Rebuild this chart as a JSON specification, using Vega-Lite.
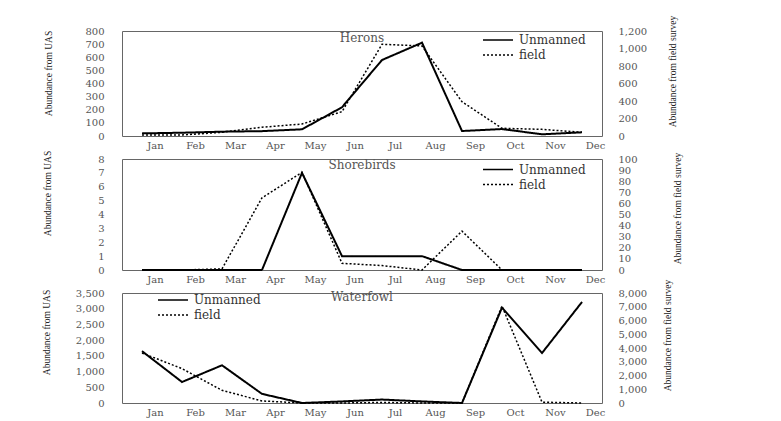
{
  "$schema": "https://vega.github.io/schema/vega-lite/v6.json",
  "background": "white",
  "padding": {"left": 40, "top": 14, "right": 5, "bottom": 5},
  "bounds": "flush",
  "spacing": 23,
  "config": {
    "view": {"stroke": "#666", "strokeWidth": 1},
    "font": "DejaVu Serif",
    "axis": {"grid": false, "ticks": false, "domain": false, "labelFont": "DejaVu Serif", "labelFontSize": 10, "labelColor": "#555", "titleFont": "Liberation Serif", "titleFontSize": 9.5, "titleColor": "#222", "titleFontWeight": "normal"},
    "legend": {"orient": "none", "title": null, "symbolType": "M-2,0H2", "symbolSize": 225, "symbolStrokeColor": "black", "symbolStrokeWidth": 1.5, "labelFont": "DejaVu Serif", "labelFontSize": 12, "labelColor": "#333", "rowPadding": -1, "padding": 0, "labelOffset": 12.5},
    "title": {"font": "DejaVu Serif", "fontSize": 12, "fontWeight": "normal", "color": "#555", "anchor": "middle", "baseline": "top", "offset": -30}
  },
  "datasets": {
    "d": [
      {"species": "Herons", "month": "Jan", "uas": 20, "field": 11},
      {"species": "Herons", "month": "Feb", "uas": 25, "field": 12},
      {"species": "Herons", "month": "Mar", "uas": 33, "field": 42},
      {"species": "Herons", "month": "Apr", "uas": 37, "field": 100},
      {"species": "Herons", "month": "May", "uas": 51, "field": 137},
      {"species": "Herons", "month": "Jun", "uas": 219, "field": 278},
      {"species": "Herons", "month": "Jul", "uas": 579, "field": 1048},
      {"species": "Herons", "month": "Aug", "uas": 711, "field": 1029},
      {"species": "Herons", "month": "Sep", "uas": 38, "field": 392},
      {"species": "Herons", "month": "Oct", "uas": 53, "field": 88},
      {"species": "Herons", "month": "Nov", "uas": 13, "field": 76},
      {"species": "Herons", "month": "Dec", "uas": 28, "field": 42},
      {"species": "Shorebirds", "month": "Jan", "uas": 0, "field": 0},
      {"species": "Shorebirds", "month": "Feb", "uas": 0, "field": 0},
      {"species": "Shorebirds", "month": "Mar", "uas": 0, "field": 1},
      {"species": "Shorebirds", "month": "Apr", "uas": 0, "field": 65},
      {"species": "Shorebirds", "month": "May", "uas": 7, "field": 88},
      {"species": "Shorebirds", "month": "Jun", "uas": 1, "field": 6},
      {"species": "Shorebirds", "month": "Jul", "uas": 1, "field": 4},
      {"species": "Shorebirds", "month": "Aug", "uas": 1, "field": 0},
      {"species": "Shorebirds", "month": "Sep", "uas": 0, "field": 35},
      {"species": "Shorebirds", "month": "Oct", "uas": 0, "field": 0},
      {"species": "Shorebirds", "month": "Nov", "uas": 0, "field": 0},
      {"species": "Shorebirds", "month": "Dec", "uas": 0, "field": 0},
      {"species": "Waterfowl", "month": "Jan", "uas": 1650, "field": 3640},
      {"species": "Waterfowl", "month": "Feb", "uas": 668, "field": 2500},
      {"species": "Waterfowl", "month": "Mar", "uas": 1200, "field": 920},
      {"species": "Waterfowl", "month": "Apr", "uas": 290, "field": 150},
      {"species": "Waterfowl", "month": "May", "uas": 0, "field": 0},
      {"species": "Waterfowl", "month": "Jun", "uas": 50, "field": 0},
      {"species": "Waterfowl", "month": "Jul", "uas": 110, "field": 40},
      {"species": "Waterfowl", "month": "Aug", "uas": 50, "field": 0},
      {"species": "Waterfowl", "month": "Sep", "uas": 0, "field": 0},
      {"species": "Waterfowl", "month": "Oct", "uas": 3035, "field": 7050},
      {"species": "Waterfowl", "month": "Nov", "uas": 1590, "field": 60},
      {"species": "Waterfowl", "month": "Dec", "uas": 3214, "field": 0}
    ]
  },
  "resolve": {"scale": {"y": "independent", "strokeDash": "independent"}, "legend": {"strokeDash": "independent"}},
  "vconcat": [
    {
      "width": 480, "height": 105,
      "data": {"name": "d"},
      "title": {"text": "Herons"},
      "transform": [{"filter": "datum.species === 'Herons'"}],
      "encoding": {"x": {"field": "month", "type": "ordinal", "sort": ["Jan","Feb","Mar","Apr","May","Jun","Jul","Aug","Sep","Oct","Nov","Dec"], "scale": {"type": "point", "padding": 0.5}, "axis": {"title": null, "labelAngle": 0, "labelOffset": 13, "labelPadding": 4}}},
      "layer": [
        {"mark": {"type": "line", "color": "black", "strokeWidth": 2},
         "encoding": {"y": {"field": "uas", "type": "quantitative", "scale": {"domain": [0, 800]}, "axis": {"orient": "left", "title": "Abundance from UAS", "values": [0,100,200,300,400,500,600,700,800], "format": ",.0f", "labelPadding": 18, "titleX": -74, "titleY": 42, "titleAngle": 270, "titleAlign": "center", "titleBaseline": "middle"}},
                      "strokeDash": {"datum": "Unmanned", "type": "nominal", "scale": {"domain": ["Unmanned", "field"], "range": [[1, 0], [2, 2]]}, "legend": {"legendX": 367.5, "legendY": 0.5}}}},
        {"mark": {"type": "line", "color": "black", "strokeWidth": 1.5},
         "encoding": {"y": {"field": "field", "type": "quantitative", "scale": {"domain": [0, 1200]}, "axis": {"orient": "right", "title": "Abundance from field survey", "values": [0,200,400,600,800,1000,1200], "format": ",.0f", "labelPadding": 16, "titleX": 70, "titleY": 40, "titleAngle": 270, "titleAlign": "center", "titleBaseline": "middle"}},
                      "strokeDash": {"datum": "field", "type": "nominal"}}}
      ],
      "resolve": {"scale": {"y": "independent"}}
    },
    {
      "width": 480, "height": 111,
      "data": {"name": "d"},
      "title": {"text": "Shorebirds", "offset": -22},
      "transform": [{"filter": "datum.species === 'Shorebirds'"}],
      "encoding": {"x": {"field": "month", "type": "ordinal", "sort": ["Jan","Feb","Mar","Apr","May","Jun","Jul","Aug","Sep","Oct","Nov","Dec"], "scale": {"type": "point", "padding": 0.5}, "axis": {"title": null, "labelAngle": 0, "labelOffset": 13, "labelPadding": 4}}},
      "layer": [
        {"mark": {"type": "line", "color": "black", "strokeWidth": 2},
         "encoding": {"y": {"field": "uas", "type": "quantitative", "scale": {"domain": [0, 8]}, "axis": {"orient": "left", "title": "Abundance from UAS", "values": [0,1,2,3,4,5,6,7,8], "labelPadding": 18, "titleX": -75, "titleY": 34, "titleAngle": 270, "titleAlign": "center", "titleBaseline": "middle"}},
                      "strokeDash": {"datum": "Unmanned", "type": "nominal", "scale": {"domain": ["Unmanned", "field"], "range": [[1, 0], [2, 2]]}, "legend": {"legendX": 367.5, "legendY": 2}}}},
        {"mark": {"type": "line", "color": "black", "strokeWidth": 1.5},
         "encoding": {"y": {"field": "field", "type": "quantitative", "scale": {"domain": [0, 100]}, "axis": {"orient": "right", "title": "Abundance from field survey", "values": [0,10,20,30,40,50,60,70,80,90,100], "labelPadding": 16, "titleX": 75, "titleY": 49, "titleAngle": 270, "titleAlign": "center", "titleBaseline": "middle"}},
                      "strokeDash": {"datum": "field", "type": "nominal"}}}
      ],
      "resolve": {"scale": {"y": "independent"}}
    },
    {
      "width": 480, "height": 110,
      "data": {"name": "d"},
      "title": {"text": "Waterfowl", "offset": -24.5},
      "transform": [{"filter": "datum.species === 'Waterfowl'"}],
      "encoding": {"x": {"field": "month", "type": "ordinal", "sort": ["Jan","Feb","Mar","Apr","May","Jun","Jul","Aug","Sep","Oct","Nov","Dec"], "scale": {"type": "point", "padding": 0.5}, "axis": {"title": null, "labelAngle": 0, "labelOffset": 13, "labelPadding": 4}}},
      "layer": [
        {"mark": {"type": "line", "color": "black", "strokeWidth": 2},
         "encoding": {"y": {"field": "uas", "type": "quantitative", "scale": {"domain": [0, 3500]}, "axis": {"orient": "left", "title": "Abundance from UAS", "values": [0,500,1000,1500,2000,2500,3000,3500], "format": ",.0f", "labelPadding": 18, "titleX": -76, "titleY": 39, "titleAngle": 270, "titleAlign": "center", "titleBaseline": "middle"}},
                      "strokeDash": {"datum": "Unmanned", "type": "nominal", "scale": {"domain": ["Unmanned", "field"], "range": [[1, 0], [2, 2]]}, "legend": {"legendX": 42.5, "legendY": -1.5}}}},
        {"mark": {"type": "line", "color": "black", "strokeWidth": 1.5},
         "encoding": {"y": {"field": "field", "type": "quantitative", "scale": {"domain": [0, 8000]}, "axis": {"orient": "right", "title": "Abundance from field survey", "values": [0,1000,2000,3000,4000,5000,6000,7000,8000], "format": ",.0f", "labelPadding": 16, "titleX": 65, "titleY": 42, "titleAngle": 270, "titleAlign": "center", "titleBaseline": "middle"}},
                      "strokeDash": {"datum": "field", "type": "nominal"}}}
      ],
      "resolve": {"scale": {"y": "independent"}}
    }
  ]
}
